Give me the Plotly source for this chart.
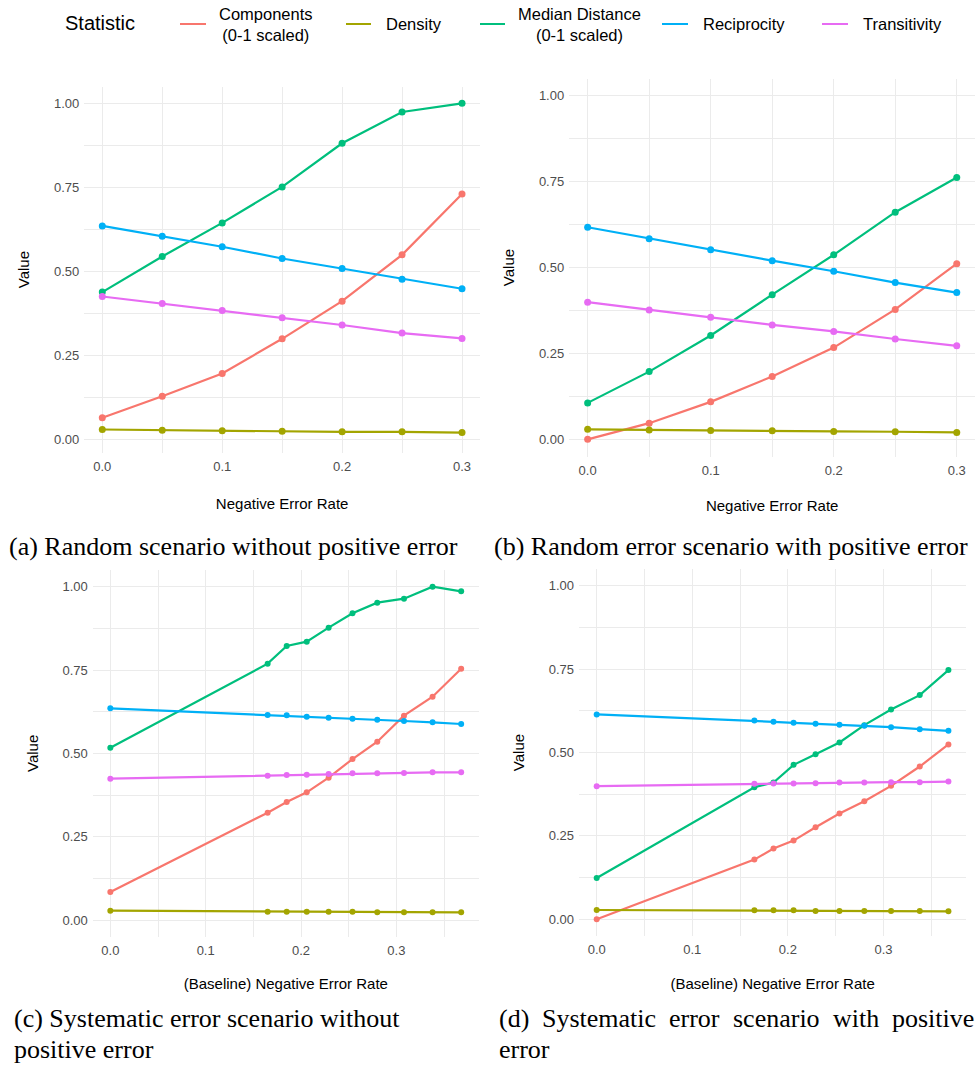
import plotly.graph_objects as go

# ---------------- data ----------------
series_names = ["Components<br>(0-1 scaled)", "Density", "Median Distance<br>(0-1 scaled)",
                "Reciprocity", "Transitivity"]
series_colors = ["#F8766D", "#A3A500", "#00BF7D", "#00B0F6", "#E76BF3"]

x_random = [0.0, 0.05, 0.10, 0.15, 0.20, 0.25, 0.30]
x_systematic = [0.0, 0.165, 0.185, 0.206, 0.229, 0.254, 0.280, 0.308, 0.338, 0.368]

# (a) Random scenario without positive error
a_components = [0.064, 0.128, 0.196, 0.299, 0.411, 0.549, 0.730]
a_density = [0.029, 0.027, 0.025, 0.024, 0.022, 0.022, 0.020]
a_median = [0.438, 0.544, 0.644, 0.751, 0.881, 0.974, 1.000]
a_reciprocity = [0.635, 0.604, 0.573, 0.538, 0.508, 0.476, 0.448]
a_transitivity = [0.425, 0.404, 0.383, 0.362, 0.340, 0.316, 0.300]

# (b) Random error scenario with positive error
b_components = [0.000, 0.047, 0.109, 0.183, 0.267, 0.378, 0.511]
b_density = [0.029, 0.027, 0.026, 0.025, 0.023, 0.022, 0.020]
b_median = [0.106, 0.197, 0.302, 0.421, 0.537, 0.661, 0.762]
b_reciprocity = [0.617, 0.584, 0.552, 0.520, 0.489, 0.456, 0.427]
b_transitivity = [0.399, 0.376, 0.355, 0.333, 0.314, 0.292, 0.272]

# (c) Systematic error scenario without positive error
c_components = [0.084, 0.322, 0.354, 0.383, 0.427, 0.483, 0.535, 0.613, 0.670, 0.754]
c_density = [0.028, 0.025, 0.025, 0.025, 0.025, 0.025, 0.023, 0.023, 0.023, 0.023]
c_median = [0.517, 0.769, 0.822, 0.835, 0.877, 0.920, 0.952, 0.964, 1.000, 0.986]
c_reciprocity = [0.635, 0.615, 0.614, 0.610, 0.607, 0.604, 0.601, 0.597, 0.593, 0.588]
c_transitivity = [0.424, 0.433, 0.435, 0.436, 0.438, 0.440, 0.440, 0.441, 0.443, 0.443]

# (d) Systematic error scenario with positive error
d_components = [0.000, 0.179, 0.212, 0.236, 0.276, 0.317, 0.354, 0.400, 0.458, 0.524]
d_density = [0.028, 0.027, 0.027, 0.027, 0.025, 0.025, 0.025, 0.025, 0.025, 0.024]
d_median = [0.124, 0.396, 0.410, 0.463, 0.495, 0.530, 0.582, 0.629, 0.672, 0.747]
d_reciprocity = [0.614, 0.596, 0.592, 0.589, 0.586, 0.583, 0.580, 0.576, 0.570, 0.565]
d_transitivity = [0.399, 0.406, 0.407, 0.407, 0.408, 0.410, 0.410, 0.411, 0.411, 0.413]

x_titles = ["Negative Error Rate", "Negative Error Rate",
            "(Baseline) Negative Error Rate", "(Baseline) Negative Error Rate"]
y_ticks = [0.0, 0.25, 0.5, 0.75, 1.0]
x_ticks = [0.0, 0.1, 0.2, 0.3]

# ---------------- layout helpers ----------------
W, H = 979, 1067


def px_x(p):
    return p / W


def px_y(p):
    return 1 - p / H


panels = [
    dict(x=x_random, ys=[a_components, a_density, a_median, a_reciprocity, a_transitivity],
         xdom=(84.3, 480.0), ydom=(86.5, 452.7), xr=(-0.015, 0.315), yr=(-0.04, 1.05), ms=7,
         xstand=25),
    dict(x=x_random, ys=[b_components, b_density, b_median, b_reciprocity, b_transitivity],
         xdom=(569.2, 975.2), ydom=(78.5, 456.5), xr=(-0.015, 0.315), yr=(-0.05, 1.05), ms=7,
         xstand=23),
    dict(x=x_systematic, ys=[c_components, c_density, c_median, c_reciprocity, c_transitivity],
         xdom=(92.8, 478.9), ydom=(570.0, 936.7), xr=(-0.0184, 0.3866), yr=(-0.05, 1.05), ms=6,
         xstand=21),
    dict(x=x_systematic, ys=[d_components, d_density, d_median, d_reciprocity, d_transitivity],
         xdom=(579.1, 966.2), ydom=(569.0, 936.0), xr=(-0.0184, 0.3866), yr=(-0.05, 1.05), ms=6,
         xstand=22),
]

fig = go.Figure()
SANS = "Liberation Sans, Arial, sans-serif"
SERIF = "Liberation Serif, Times New Roman, serif"
GRID = "#EBEBEB"

for i, p in enumerate(panels):
    suffix = "" if i == 0 else str(i + 1)
    xa, ya = "x" + suffix, "y" + suffix
    # lines layer first, then points (ggplot geom_line + geom_point)
    for name, col, ys in zip(series_names, series_colors, p["ys"]):
        fig.add_trace(go.Scatter(x=p["x"], y=ys, mode="lines", name=name,
                                 line=dict(color=col, width=2.2), xaxis=xa, yaxis=ya,
                                 showlegend=False, hoverinfo="skip"))
    for name, col, ys in zip(series_names, series_colors, p["ys"]):
        fig.add_trace(go.Scatter(x=p["x"], y=ys, mode="markers", name=name,
                                 marker=dict(color=col, size=p["ms"]), xaxis=xa, yaxis=ya,
                                 showlegend=False))
    axis_common = dict(showline=False, zeroline=False, showgrid=True, gridcolor=GRID, gridwidth=1,
                       ticks="", tickfont=dict(family=SANS, size=13, color="#4D4D4D"))
    fig.layout["xaxis" + suffix] = dict(
        domain=[px_x(p["xdom"][0]), px_x(p["xdom"][1])], range=list(p["xr"]), anchor=ya,
        tickvals=x_ticks, tickformat=".1f",
        minor=dict(dtick=0.05, tick0=0, showgrid=True, gridcolor=GRID, gridwidth=0.6),
        title=dict(text=x_titles[i], font=dict(family=SANS, size=15, color="black"),
                   standoff=p["xstand"]),
        ticklabelstandoff=4,
        **axis_common)
    fig.layout["yaxis" + suffix] = dict(
        domain=[px_y(p["ydom"][1]), px_y(p["ydom"][0])], range=list(p["yr"]), anchor=xa,
        tickvals=y_ticks, tickformat=".2f",
        minor=dict(dtick=0.125, tick0=0, showgrid=True, gridcolor=GRID, gridwidth=0.6),
        title=dict(text="Value", font=dict(family=SANS, size=15, color="black"), standoff=20),
        ticklabelstandoff=4,
        **axis_common)

# ---------------- legend (drawn at top, ggplot style) ----------------
annotations = []
shapes = []
annotations.append(dict(text="Statistic", x=px_x(63), y=px_y(23), xref="paper", yref="paper",
                        xanchor="left", yanchor="middle", showarrow=False,
                        font=dict(family=SANS, size=20, color="black")))
legend_line_x = [(180, 206), (346, 371), (480, 505), (662, 688), (822, 848)]
legend_text_x = [266, 384, 579.5, 701, 861]
legend_anchor = ["center", "left", "center", "left", "left"]
for (l0, l1), tx, anc, name, col in zip(legend_line_x, legend_text_x, legend_anchor,
                                         series_names, series_colors):
    shapes.append(dict(type="line", xref="paper", yref="paper", x0=px_x(l0), x1=px_x(l1),
                       y0=px_y(24), y1=px_y(24), line=dict(color=col, width=2)))
    annotations.append(dict(text=name, x=px_x(tx), y=px_y(24.5), xref="paper", yref="paper",
                            xanchor=anc, yanchor="middle", showarrow=False, align="center",
                            font=dict(family=SANS, size=16.5, color="black")))

# ---------------- captions ----------------
CAP = 26
captions = [
    ("(a) Random scenario without positive error", 8, 546),
    ("(b) Random error scenario with positive error", 493, 546),
    ("(c) Systematic error scenario without", 13, 1018),
    ("positive error", 13, 1049),
    ("error", 498, 1049),
]
for txt, cx, cy in captions:
    annotations.append(dict(text=txt, x=px_x(cx), y=px_y(cy), xref="paper", yref="paper",
                            xanchor="left", yanchor="middle", showarrow=False, borderpad=0,
                            font=dict(family=SERIF, size=CAP, color="black")))
# justified first line of caption (d)
d_words = ["(d)", "Systematic", "error", "scenario", "with", "positive"]
d_word_x = [498, 541.3, 668.4, 731.9, 831.5, 890.7]
for wtxt, wx in zip(d_words, d_word_x):
    annotations.append(dict(text=wtxt, x=px_x(wx), y=px_y(1018), xref="paper", yref="paper",
                            xanchor="left", yanchor="middle", showarrow=False, borderpad=0,
                            font=dict(family=SERIF, size=CAP, color="black")))

fig.update_layout(width=W, height=H, margin=dict(l=0, r=0, t=0, b=0),
                  paper_bgcolor="white", plot_bgcolor="white", showlegend=False,
                  annotations=annotations, shapes=shapes)

fig.write_html("out.html")
